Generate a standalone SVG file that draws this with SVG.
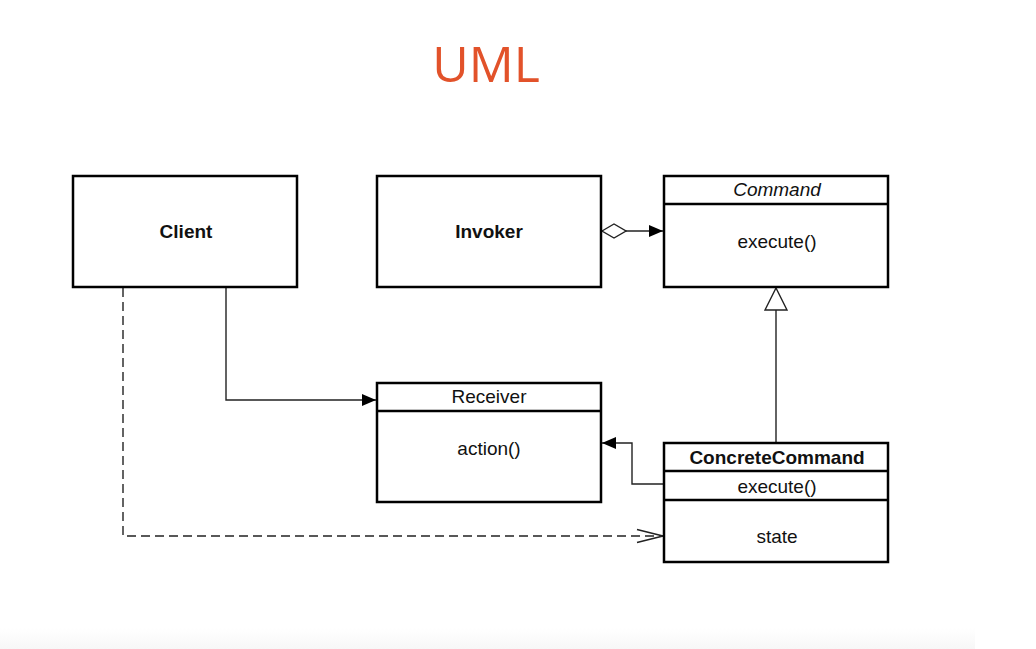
<svg xmlns="http://www.w3.org/2000/svg" width="1036" height="649" viewBox="0 0 1036 649">
  <defs>
    <style>
      .box { fill: #ffffff; stroke: #000000; stroke-width: 2.5; }
      .div { stroke: #000000; stroke-width: 2.5; }
      .lbl { font-family: "Liberation Sans", Arial, sans-serif; font-size: 19px; fill: #111111; text-anchor: middle; }
      .b { font-weight: bold; }
      .i { font-style: italic; }
      .con { fill: none; stroke: #222222; stroke-width: 1.4; }
      .dash { stroke-dasharray: 9 5; }
    </style>
    <marker id="filled" viewBox="0 0 14 12" refX="14" refY="6" markerWidth="14" markerHeight="12" markerUnits="userSpaceOnUse" orient="auto">
      <path d="M0,0 L14,6 L0,12 Z" fill="#000000"/>
    </marker>
    <marker id="open" viewBox="0 0 28 16" refX="27" refY="8" markerWidth="28" markerHeight="16" markerUnits="userSpaceOnUse" orient="auto">
      <path d="M1,1.5 L27,8 L1,14.5" fill="none" stroke="#222222" stroke-width="1.5"/>
    </marker>
    <marker id="hollowTri" viewBox="0 0 24 24" refX="23" refY="12" markerWidth="24" markerHeight="24" markerUnits="userSpaceOnUse" orient="auto">
      <path d="M1,1 L23,12 L1,23 Z" fill="#ffffff" stroke="#222222" stroke-width="1.4"/>
    </marker>
    <marker id="diamond" viewBox="0 0 26 16" refX="1" refY="8" markerWidth="26" markerHeight="16" markerUnits="userSpaceOnUse" orient="auto">
      <path d="M1,8 L13,1 L25,8 L13,15 Z" fill="#ffffff" stroke="#222222" stroke-width="1.4"/>
    </marker>
    <linearGradient id="footer" x1="0" y1="0" x2="0" y2="1">
      <stop offset="0" stop-color="#ffffff"/>
      <stop offset="1" stop-color="#f7f7f7"/>
    </linearGradient>
  </defs>

  <rect x="0" y="0" width="1036" height="649" fill="#ffffff"/>
  <rect x="0" y="628" width="975" height="21" fill="url(#footer)"/>

  <text x="486" y="82" font-family="'Open Sans', 'Noto Sans', sans-serif" font-size="50" fill="#E2522A" text-anchor="middle">UML</text>

  <!-- connectors -->
  <g id="connectors">
    <!-- Invoker aggregates Command -->
    <path class="con" d="M602,231 L663,231" marker-start="url(#diamond)" marker-end="url(#filled)"/>
    <!-- ConcreteCommand generalizes Command -->
    <path class="con" d="M776,442 L776,288" marker-end="url(#hollowTri)"/>
    <!-- Client uses Receiver -->
    <path class="con" d="M226,288 L226,400 L376,400" marker-end="url(#filled)"/>
    <!-- ConcreteCommand calls Receiver -->
    <path class="con" d="M663,484 L632,484 L632,443 L602,443" marker-end="url(#filled)"/>
    <!-- Client creates ConcreteCommand -->
    <path class="con dash" d="M123,288 L123,536 L663,536" marker-end="url(#open)"/>
  </g>

  <g id="client">
    <rect class="box" x="73" y="176" width="224" height="111"/>
    <text class="lbl b" x="186" y="238">Client</text>
  </g>

  <g id="invoker">
    <rect class="box" x="377" y="176" width="224" height="111"/>
    <text class="lbl b" x="489" y="238">Invoker</text>
  </g>

  <g id="command">
    <rect class="box" x="664" y="176" width="224" height="111"/>
    <line class="div" x1="664" y1="204" x2="888" y2="204"/>
    <text class="lbl i" x="777" y="196">Command</text>
    <text class="lbl" x="777" y="248">execute()</text>
  </g>

  <g id="receiver">
    <rect class="box" x="377" y="383" width="224" height="119"/>
    <line class="div" x1="377" y1="411" x2="601" y2="411"/>
    <text class="lbl" x="489" y="403">Receiver</text>
    <text class="lbl" x="489" y="455">action()</text>
  </g>

  <g id="concrete-command">
    <rect class="box" x="664" y="443" width="224" height="119"/>
    <line class="div" x1="664" y1="471" x2="888" y2="471"/>
    <line class="div" x1="664" y1="500" x2="888" y2="500"/>
    <text class="lbl b" x="777" y="464">ConcreteCommand</text>
    <text class="lbl" x="777" y="493">execute()</text>
    <text class="lbl" x="777" y="543">state</text>
  </g>
</svg>
